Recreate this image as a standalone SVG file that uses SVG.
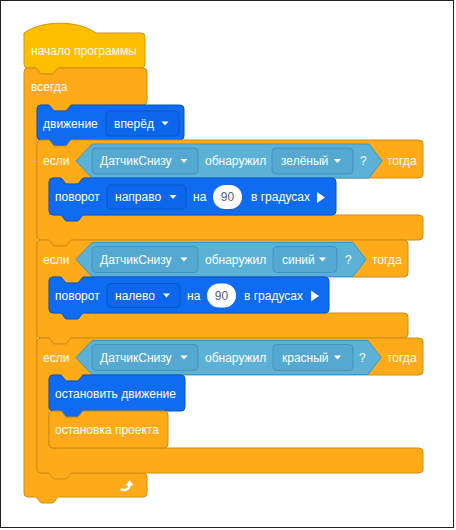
<svg xmlns="http://www.w3.org/2000/svg" width="456" height="530" viewBox="0 0 456 530">
<style>
text{font-family:"Liberation Sans",Arial,sans-serif;font-size:12px;fill:#fff}
.hat{fill:#FFBF00;stroke:#CC9900;stroke-width:1}
.ctl{fill:#FFAB19;stroke:#CF8B17;stroke-width:1}
.mot{fill:#0F6CF2;stroke:#0A55C4;stroke-width:1}
.mdd{fill:#0D67EC;stroke:#0A55C4;stroke-width:1}
.sen{fill:#5CB1D6;stroke:#3E97C2;stroke-width:1}
.sdd{fill:#55A9D1;stroke:#3E94BF;stroke-width:1}
.num{fill:#fff}
.num-t{fill:#575E75}
.tri{fill:#fff}
</style>
<rect x="0" y="0" width="456" height="530" fill="#fff"/>
<rect x="0.5" y="0.5" width="453" height="527" fill="none" stroke="#222" stroke-width="1"/>

<g id="hat">
<path class="hat" d="M24,33 c18,-13 54,-13 72,0 H141 a4,4 0 0 1 4,4 V64 a4,4 0 0 1 -4,4 H59 c-1,0 -1.5,0.5 -2,1 l-3,4 c-0.5,0.5 -1,1 -2,1 h-10 c-1,0 -1.5,-0.5 -2,-1 l-3,-4 c-0.5,-0.5 -1,-1 -2,-1 H28 a4,4 0 0 1 -4,-4 Z"/>
<text x="31" y="54.5">начало программы</text>
</g>

<g id="forever">
<path class="ctl" d="M24,72 a4,4 0 0 1 4,-4 H35 c1,0 1.5,0.5 2,1 l3,4 c0.5,0.5 1,1 2,1 h10 c1,0 1.5,-0.5 2,-1 l3,-4 c0.5,-0.5 1,-1 2,-1 H143 a4,4 0 0 1 4,4 V101 a4,4 0 0 1 -4,4 H72 c-1,0 -1.5,0.5 -2,1 l-3,4 c-0.5,0.5 -1,1 -2,1 h-10 c-1,0 -1.5,-0.5 -2,-1 l-3,-4 c-0.5,-0.5 -1,-1 -2,-1 H41 a4,4 0 0 0 -4,4 V469 a4,4 0 0 0 4,4 H143 a4,4 0 0 1 4,4 V493 a4,4 0 0 1 -4,4 H59 c-1,0 -1.5,0.5 -2,1 l-3,4 c-0.5,0.5 -1,1 -2,1 h-10 c-1,0 -1.5,-0.5 -2,-1 l-3,-4 c-0.5,-0.5 -1,-1 -2,-1 H28 a4,4 0 0 1 -4,-4 Z"/>
<text x="31" y="91">всегда</text>
<path d="M121.5,489.5 C125,491 129,489.5 129.5,485" stroke="#fff" stroke-width="2.5" fill="none" stroke-linecap="round"/>
<path d="M125.5,485.5 L129.5,480 L133.5,485.5 Z" fill="#fff"/>
</g>

<g id="move">
<path class="mot" d="M37,109 a4,4 0 0 1 4,-4 H48 c1,0 1.5,0.5 2,1 l3,4 c0.5,0.5 1,1 2,1 h10 c1,0 1.5,-0.5 2,-1 l3,-4 c0.5,-0.5 1,-1 2,-1 H180 a4,4 0 0 1 4,4 V136 a4,4 0 0 1 -4,4 H72 c-1,0 -1.5,0.5 -2,1 l-3,4 c-0.5,0.5 -1,1 -2,1 h-10 c-1,0 -1.5,-0.5 -2,-1 l-3,-4 c-0.5,-0.5 -1,-1 -2,-1 H41 a4,4 0 0 1 -4,-4 Z"/>
<text x="43" y="127.5">движение</text>
<rect class="mdd" x="106" y="111" width="73" height="25" rx="4"/>
<text x="114" y="127.5">вперёд</text>
<polygon class="tri" points="161.5,121.5 168.5,121.5 165,125.5"/>
</g>

<g id="if1">
<path class="ctl" d="M37,144 a4,4 0 0 1 4,-4 H48 c1,0 1.5,0.5 2,1 l3,4 c0.5,0.5 1,1 2,1 h10 c1,0 1.5,-0.5 2,-1 l3,-4 c0.5,-0.5 1,-1 2,-1 H419 a4,4 0 0 1 4,4 V174 a4,4 0 0 1 -4,4 H84 c-1,0 -1.5,0.5 -2,1 l-3,4 c-0.5,0.5 -1,1 -2,1 h-10 c-1,0 -1.5,-0.5 -2,-1 l-3,-4 c-0.5,-0.5 -1,-1 -2,-1 H53 a4,4 0 0 0 -4,4 V211 a4,4 0 0 0 4,4 H419 a4,4 0 0 1 4,4 V236 a4,4 0 0 1 -4,4 H72 c-1,0 -1.5,0.5 -2,1 l-3,4 c-0.5,0.5 -1,1 -2,1 h-10 c-1,0 -1.5,-0.5 -2,-1 l-3,-4 c-0.5,-0.5 -1,-1 -2,-1 H41 a4,4 0 0 1 -4,-4 Z"/>
<text x="43" y="165.3">если</text>
<path class="sen" d="M76,161 L92,144 H369 L382,161 L369,178 H92 Z"/>
<rect class="sdd" x="92" y="148" width="106" height="26" rx="4"/>
<text x="100" y="165.3">ДатчикСнизу</text>
<polygon class="tri" points="180.5,159 187.5,159 184,163"/>
<text x="205" y="165.3">обнаружил</text>
<rect class="sdd" x="272" y="148" width="81" height="26" rx="4"/>
<text x="281" y="165.3">зелёный</text>
<polygon class="tri" points="334,159 341,159 337.5,163"/>
<text x="360" y="165.3">?</text>
<text x="387" y="165.3">тогда</text>
</g>

<g id="turn1">
<path class="mot" d="M49,182 a4,4 0 0 1 4,-4 H60 c1,0 1.5,0.5 2,1 l3,4 c0.5,0.5 1,1 2,1 h10 c1,0 1.5,-0.5 2,-1 l3,-4 c0.5,-0.5 1,-1 2,-1 H332 a4,4 0 0 1 4,4 V211 a4,4 0 0 1 -4,4 H84 c-1,0 -1.5,0.5 -2,1 l-3,4 c-0.5,0.5 -1,1 -2,1 h-10 c-1,0 -1.5,-0.5 -2,-1 l-3,-4 c-0.5,-0.5 -1,-1 -2,-1 H53 a4,4 0 0 1 -4,-4 Z"/>
<text x="55" y="201">поворот</text>
<rect class="mdd" x="107" y="185" width="79" height="24" rx="4"/>
<text x="115" y="201">направо</text>
<polygon class="tri" points="169.5,195 176.5,195 173,199"/>
<text x="193" y="201">на</text>
<rect class="num" x="213" y="185" width="29" height="24" rx="12"/>
<text class="num-t" x="227.5" y="201" text-anchor="middle">90</text>
<text x="251" y="201">в градусах</text>
<polygon class="tri" points="317,192 325,197.5 317,203"/>
</g>

<g id="if2">
<path class="ctl" d="M37,244 a4,4 0 0 1 4,-4 H48 c1,0 1.5,0.5 2,1 l3,4 c0.5,0.5 1,1 2,1 h10 c1,0 1.5,-0.5 2,-1 l3,-4 c0.5,-0.5 1,-1 2,-1 H404 a4,4 0 0 1 4,4 V273 a4,4 0 0 1 -4,4 H84 c-1,0 -1.5,0.5 -2,1 l-3,4 c-0.5,0.5 -1,1 -2,1 h-10 c-1,0 -1.5,-0.5 -2,-1 l-3,-4 c-0.5,-0.5 -1,-1 -2,-1 H53 a4,4 0 0 0 -4,4 V309 a4,4 0 0 0 4,4 H404 a4,4 0 0 1 4,4 V334 a4,4 0 0 1 -4,4 H72 c-1,0 -1.5,0.5 -2,1 l-3,4 c-0.5,0.5 -1,1 -2,1 h-10 c-1,0 -1.5,-0.5 -2,-1 l-3,-4 c-0.5,-0.5 -1,-1 -2,-1 H41 a4,4 0 0 1 -4,-4 Z"/>
<text x="43" y="263.8">если</text>
<path class="sen" d="M76,259.5 L92,242.5 H353 L366,259.5 L353,276.5 H92 Z"/>
<rect class="sdd" x="92" y="246.5" width="106" height="26" rx="4"/>
<text x="100" y="263.8">ДатчикСнизу</text>
<polygon class="tri" points="180.5,257.5 187.5,257.5 184,261.5"/>
<text x="205" y="263.8">обнаружил</text>
<rect class="sdd" x="273" y="246.5" width="64" height="26" rx="4"/>
<text x="282" y="263.8">синий</text>
<polygon class="tri" points="319,257.5 326,257.5 322.5,261.5"/>
<text x="345" y="263.8">?</text>
<text x="372" y="263.8">тогда</text>
</g>

<g id="turn2">
<path class="mot" d="M49,281 a4,4 0 0 1 4,-4 H60 c1,0 1.5,0.5 2,1 l3,4 c0.5,0.5 1,1 2,1 h10 c1,0 1.5,-0.5 2,-1 l3,-4 c0.5,-0.5 1,-1 2,-1 H325 a4,4 0 0 1 4,4 V309 a4,4 0 0 1 -4,4 H84 c-1,0 -1.5,0.5 -2,1 l-3,4 c-0.5,0.5 -1,1 -2,1 h-10 c-1,0 -1.5,-0.5 -2,-1 l-3,-4 c-0.5,-0.5 -1,-1 -2,-1 H53 a4,4 0 0 1 -4,-4 Z"/>
<text x="55" y="299.5">поворот</text>
<rect class="mdd" x="107" y="283.5" width="73" height="24" rx="4"/>
<text x="115" y="299.5">налево</text>
<polygon class="tri" points="163,293.5 170,293.5 166.5,297.5"/>
<text x="187" y="299.5">на</text>
<rect class="num" x="207" y="283.5" width="29" height="24" rx="12"/>
<text class="num-t" x="221.5" y="299.5" text-anchor="middle">90</text>
<text x="244" y="299.5">в градусах</text>
<polygon class="tri" points="311,290.5 319,296 311,301.5"/>
</g>

<g id="if3">
<path class="ctl" d="M37,342 a4,4 0 0 1 4,-4 H48 c1,0 1.5,0.5 2,1 l3,4 c0.5,0.5 1,1 2,1 h10 c1,0 1.5,-0.5 2,-1 l3,-4 c0.5,-0.5 1,-1 2,-1 H419 a4,4 0 0 1 4,4 V371 a4,4 0 0 1 -4,4 H84 c-1,0 -1.5,0.5 -2,1 l-3,4 c-0.5,0.5 -1,1 -2,1 h-10 c-1,0 -1.5,-0.5 -2,-1 l-3,-4 c-0.5,-0.5 -1,-1 -2,-1 H53 a4,4 0 0 0 -4,4 V444 a4,4 0 0 0 4,4 H419 a4,4 0 0 1 4,4 V469 a4,4 0 0 1 -4,4 H72 c-1,0 -1.5,0.5 -2,1 l-3,4 c-0.5,0.5 -1,1 -2,1 h-10 c-1,0 -1.5,-0.5 -2,-1 l-3,-4 c-0.5,-0.5 -1,-1 -2,-1 H41 a4,4 0 0 1 -4,-4 Z"/>
<text x="43" y="361.8">если</text>
<path class="sen" d="M76,357.5 L92,340.5 H368 L381,357.5 L368,374.5 H92 Z"/>
<rect class="sdd" x="92" y="344.5" width="106" height="26" rx="4"/>
<text x="100" y="361.8">ДатчикСнизу</text>
<polygon class="tri" points="180.5,355.5 187.5,355.5 184,359.5"/>
<text x="205" y="361.8">обнаружил</text>
<rect class="sdd" x="273" y="344.5" width="80" height="26" rx="4"/>
<text x="282" y="361.8">красный</text>
<polygon class="tri" points="334,355.5 341,355.5 337.5,359.5"/>
<text x="359" y="361.8">?</text>
<text x="387" y="361.8">тогда</text>
</g>

<g id="stop-move">
<path class="mot" d="M49,379 a4,4 0 0 1 4,-4 H60 c1,0 1.5,0.5 2,1 l3,4 c0.5,0.5 1,1 2,1 h10 c1,0 1.5,-0.5 2,-1 l3,-4 c0.5,-0.5 1,-1 2,-1 H181 a4,4 0 0 1 4,4 V407 a4,4 0 0 1 -4,4 H84 c-1,0 -1.5,0.5 -2,1 l-3,4 c-0.5,0.5 -1,1 -2,1 h-10 c-1,0 -1.5,-0.5 -2,-1 l-3,-4 c-0.5,-0.5 -1,-1 -2,-1 H53 a4,4 0 0 1 -4,-4 Z"/>
<text x="55" y="397.5">остановить движение</text>
</g>

<g id="stop-project">
<path class="ctl" d="M49,415 a4,4 0 0 1 4,-4 H60 c1,0 1.5,0.5 2,1 l3,4 c0.5,0.5 1,1 2,1 h10 c1,0 1.5,-0.5 2,-1 l3,-4 c0.5,-0.5 1,-1 2,-1 H164 a4,4 0 0 1 4,4 V444 a4,4 0 0 1 -4,4 H53 a4,4 0 0 1 -4,-4 Z"/>
<text x="55" y="434">остановка проекта</text>
</g>
<g id="connectors"/>
</svg>
